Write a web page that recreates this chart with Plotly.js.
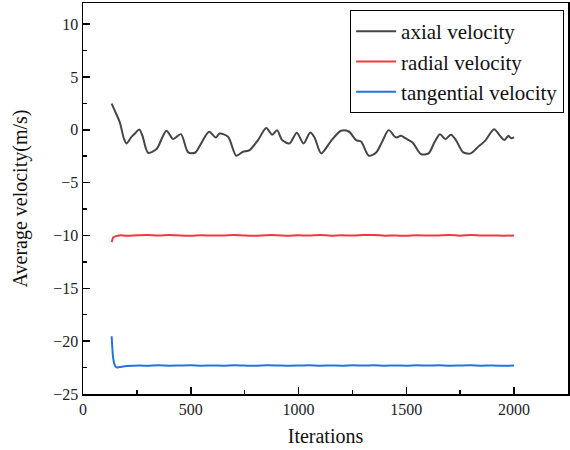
<!DOCTYPE html>
<html>
<head>
<meta charset="utf-8">
<script src="https://cdn.plot.ly/plotly-3.0.1.min.js"></script>
<style>html,body{margin:0;padding:0;background:#fff;}#chart{width:570px;height:450px;}</style>
</head>
<body>
<div id="chart"></div>
<script>
// Axial velocity
const axialX = [133, 148, 171, 190, 202, 225, 241, 261, 276, 302, 341, 387, 418, 454, 488, 519, 542, 585, 616, 634, 673, 711, 742, 773, 812, 850, 878, 900, 924, 958, 992, 1023, 1054, 1074, 1105, 1151, 1197, 1233, 1267, 1290, 1326, 1360, 1390, 1418, 1452, 1475, 1495, 1529, 1568, 1603, 1630, 1656, 1681, 1707, 1730, 1764, 1799, 1830, 1868, 1907, 1935, 1954, 1974, 1985, 2000];
const axialY = [2.48, 1.79, 0.69, -0.85, -1.29, -0.66, -0.35, 0.03, -0.57, -2.17, -1.82, -0.09, -0.88, -0.41, -2.14, -2.17, -1.51, -0.19, -0.72, -0.35, -0.66, -2.45, -2.08, -1.92, -0.97, 0.16, -0.47, -0.03, -0.97, -1.29, -0.28, -1.29, -0.25, -0.72, -2.23, -1.04, -0.09, -0.16, -0.97, -1.1, -2.45, -2.14, -1.04, -0.03, -0.72, -0.57, -0.79, -1.2, -2.3, -2.23, -1.2, -0.41, -0.88, -0.47, -0.97, -2.14, -2.23, -1.67, -0.97, 0.06, -0.57, -0.97, -0.57, -0.79, -0.72];

// Radial velocity
const radialX = [133, 137, 140, 150, 171, 200, 250, 300, 350, 400, 450, 500, 550, 600, 650, 700, 750, 800, 850, 900, 950, 1000, 1050, 1100, 1150, 1200, 1250, 1300, 1350, 1400, 1450, 1500, 1550, 1600, 1650, 1700, 1750, 1800, 1850, 1900, 1950, 2000];
const radialY = [-10.63, -10.35, -10.18, -10.08, -9.99, -10.02, -9.98, -9.95, -10.0, -9.96, -10.0, -10.02, -9.97, -10.01, -10.0, -9.95, -10.0, -10.02, -9.97, -9.97, -10.02, -9.98, -10.0, -9.95, -10.02, -9.98, -10.01, -9.96, -9.95, -10.02, -10.0, -10.03, -9.97, -10.01, -9.99, -9.96, -10.02, -9.95, -10.0, -9.99, -10.02, -10.0];

// Tangential velocity
const tangX = [133, 140, 148, 156, 170, 202, 264, 300, 350, 400, 450, 500, 550, 600, 650, 700, 750, 800, 850, 900, 950, 1000, 1050, 1100, 1150, 1200, 1250, 1300, 1350, 1400, 1450, 1500, 1550, 1600, 1650, 1700, 1750, 1800, 1850, 1900, 1950, 2000];
const tangY = [-19.53, -21.6, -22.3, -22.48, -22.45, -22.36, -22.3, -22.33, -22.29, -22.32, -22.3, -22.28, -22.32, -22.3, -22.33, -22.28, -22.31, -22.33, -22.29, -22.3, -22.33, -22.31, -22.28, -22.32, -22.3, -22.33, -22.29, -22.31, -22.28, -22.32, -22.3, -22.33, -22.29, -22.31, -22.28, -22.32, -22.3, -22.29, -22.33, -22.3, -22.33, -22.31];

const names = ['axial velocity', 'radial velocity', 'tangential velocity'];
const colors = ['#454545', '#ee3a3f', '#2573e0'];

const traces = [
  {x: axialX, y: axialY, name: names[0], mode: 'lines', line: {color: colors[0], width: 2, shape: 'spline', smoothing: 0.8}},
  {x: radialX, y: radialY, name: names[1], mode: 'lines', line: {color: colors[1], width: 2, shape: 'spline', smoothing: 0.8}},
  {x: tangX, y: tangY, name: names[2], mode: 'lines', line: {color: colors[2], width: 2, shape: 'spline', smoothing: 0.8}}
];

const FAM = 'Liberation Serif';

const layout = {
  width: 570, height: 450,
  margin: {l: 83, r: 2, t: 3, b: 56},
  paper_bgcolor: '#fff', plot_bgcolor: '#fff',
  font: {family: FAM, color: '#111'},
  showlegend: true,
  legend: {
    x: 0.992, y: 0.982, xanchor: 'right', yanchor: 'top',
    bordercolor: '#000', borderwidth: 1, bgcolor: '#fff',
    font: {family: FAM, size: 21, color: '#111'},
    itemwidth: 40,
    tracegroupgap: 0
  },
  xaxis: {
    range: [0, 2250], dtick: 500, tick0: 0,
    showgrid: false, zeroline: false,
    showline: true, linecolor: '#000', linewidth: 1.5, mirror: true,
    ticks: 'inside', ticklen: 7, tickwidth: 1.5, tickcolor: '#000',
    minor: {dtick: 250, ticks: 'inside', ticklen: 4, tickwidth: 1.5, tickcolor: '#000', showgrid: false},
    tickfont: {family: FAM, size: 16, color: '#222'},
    title: {text: 'Iterations', font: {family: FAM, size: 20, color: '#111'}, standoff: 12}
  },
  yaxis: {
    range: [-25, 12], dtick: 5, tick0: 0,
    showgrid: false, zeroline: false,
    showline: true, linecolor: '#000', linewidth: 1.5, mirror: true,
    ticks: 'inside', ticklen: 7, tickwidth: 1.5, tickcolor: '#000',
    minor: {dtick: 2.5, ticks: 'inside', ticklen: 4, tickwidth: 1.5, tickcolor: '#000', showgrid: false},
    tickfont: {family: FAM, size: 16, color: '#222'},
    title: {text: 'Average velocity(m/s)', font: {family: FAM, size: 20, color: '#111'}, standoff: 20}
  }
};

Plotly.newPlot('chart', traces, layout, {displayModeBar: false, staticPlot: true});
</script>
</body>
</html>
